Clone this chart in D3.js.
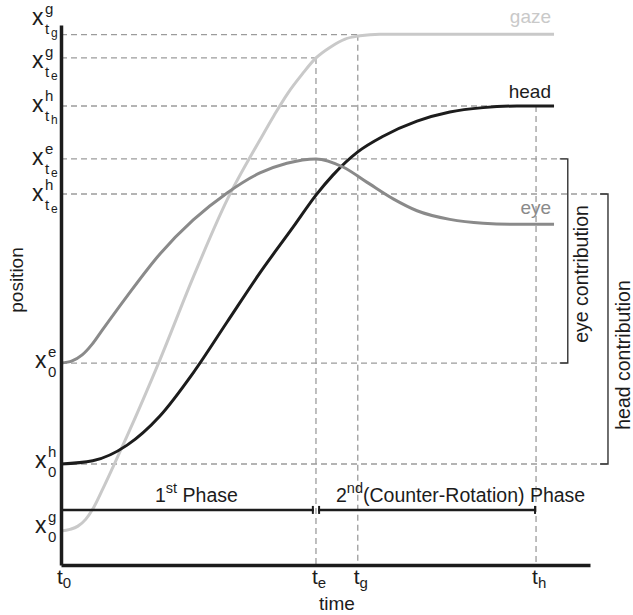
<!DOCTYPE html>
<html>
<head>
<meta charset="utf-8">
<script src="https://cdn.jsdelivr.net/npm/d3@7"></script>
<style>
  html, body { margin: 0; padding: 0; background: #fff; }
  svg { display: block; }
  text { font-family: "Liberation Sans", Arial, Helvetica, sans-serif; }
</style>
</head>
<body>
<svg id="chart" width="633" height="615"></svg>
<script>
// ---------------- DATA ----------------
// time (0..1000 units) and position (0..100 units) samples
const gazeT = [0, 17, 32, 47, 62, 79, 98, 125, 187, 250, 314, 376, 403, 429, 456, 482, 509, 537, 565, 603, 679, 932];
const gazeV = [6.3, 6.6, 7.2, 8.5, 10.7, 14.1, 18.1, 23.9, 38.0, 53.3, 67.6, 78.7, 83.3, 87.4, 90.9, 93.9, 95.9, 97.4, 98.0, 98.3, 98.3, 98.3];

const headT = [0, 60, 125, 187, 250, 314, 376, 439, 482, 514, 561, 609, 673, 735, 798, 862, 932];
const headV = [18.7, 19.3, 22.2, 27.6, 35.6, 45.0, 54.1, 62.6, 68.5, 72.2, 76.5, 79.4, 82.2, 83.9, 84.7, 85.0, 85.0];

const eyeT = [0, 21, 40, 59, 78, 125, 187, 250, 314, 376, 427, 482, 533, 578, 628, 673, 735, 798, 868, 932];
const eyeV = [37.4, 37.8, 38.9, 40.9, 43.5, 49.8, 57.6, 63.9, 68.9, 72.6, 74.4, 75.2, 73.7, 70.9, 67.8, 65.6, 64.0, 63.3, 63.1, 63.1];

const seriesNames = ["gaze", "head", "eye"];

// time markers t0, te, tg, th
const tickTimes = [0, 482, 561, 898];
const tickSubs = ["0", "e", "g", "h"];

// position levels
const levelValues = [98.2, 93.9, 85.0, 75.2, 68.7, 37.4, 18.7, 6.3];
const levelSup    = ["g", "g", "h", "e", "h", "e", "h", "g"];
const levelSub    = ["t", "t", "t", "t", "t", "0", "0", "0"];
const levelSubSub = ["g", "e", "h", "e", "e", "", "", ""];

const phaseY = 10.2;
const phaseLabels = [["1", "st", " Phase"], ["2", "nd", "(Counter-Rotation) Phase"]];
const contributionLabels = ["eye contribution", "head contribution"];
const xTitle = "time", yTitle = "position";

// ---------------- LAYOUT ----------------
const svg = d3.select("#chart");
const x = d3.scaleLinear().domain([0, 1000]).range([61, 590]);
const y = d3.scaleLinear().domain([0, 100]).range([565, 25]);

const colors = { gaze: "#c9c9c9", head: "#1c1c1c", eye: "#8a8a8a" };
const dashColor = "#9c9c9c";
const ink = "#1c1c1c";
const bracketEyeT = 958, bracketHeadT = 1034;

// dashed guide lines: [level index, end time]
const hGuides = [[0, tickTimes[2]], [1, tickTimes[1]], [2, tickTimes[3]], [3, bracketEyeT], [4, bracketHeadT], [5, bracketEyeT], [6, bracketHeadT]];
// vertical guides: [time index, level index of top]
const vGuides = [[1, 1], [2, 0], [3, 2]];

const gGuides = svg.append("g")
  .attr("stroke", dashColor).attr("stroke-width", 1.3).attr("stroke-dasharray", "6,4").attr("fill", "none");
hGuides.forEach(([li, t]) => {
  gGuides.append("line")
    .attr("x1", x(0)).attr("x2", x(t))
    .attr("y1", y(levelValues[li])).attr("y2", y(levelValues[li]));
});
vGuides.forEach(([ti, li]) => {
  gGuides.append("line")
    .attr("x1", x(tickTimes[ti])).attr("x2", x(tickTimes[ti]))
    .attr("y1", y(levelValues[li])).attr("y2", y(0));
});

// brackets
function bracket(t, v1, v2) {
  const p = d3.path();
  p.moveTo(x(t) - 8, y(v1)); p.lineTo(x(t), y(v1)); p.lineTo(x(t), y(v2)); p.lineTo(x(t) - 8, y(v2));
  svg.append("path").attr("d", p.toString()).attr("fill", "none").attr("stroke", "#333").attr("stroke-width", 1.4);
}
bracket(bracketEyeT, levelValues[3], levelValues[5]);
bracket(bracketHeadT, levelValues[4], levelValues[6]);

// curves
const line = d3.line().x(d => x(d[0])).y(d => y(d[1])).curve(d3.curveMonotoneX);
const seriesData = {
  gaze: d3.zip(gazeT, gazeV),
  head: d3.zip(headT, headV),
  eye: d3.zip(eyeT, eyeV)
};
seriesNames.forEach(n => {
  svg.append("path").datum(seriesData[n]).attr("d", line)
    .attr("fill", "none").attr("stroke", colors[n]).attr("stroke-width", 3).attr("stroke-linecap", "butt");
});

// series labels
const labelDy = { gaze: -11, head: -8, eye: -10 };
seriesNames.forEach(n => {
  const d = seriesData[n][seriesData[n].length - 1];
  svg.append("text").attr("x", x(d[0]) - 3).attr("y", y(d[1]) + labelDy[n])
    .attr("text-anchor", "end").attr("font-size", 19).attr("fill", colors[n]).text(n);
});

// phase lines
function phaseSeg(t1, t2) {
  const yy = y(phaseY);
  const g = svg.append("g").attr("stroke", ink).attr("stroke-width", 2.5);
  g.append("line").attr("x1", x(t1)).attr("x2", x(t2)).attr("y1", yy).attr("y2", yy);
  g.append("line").attr("x1", x(t1) + 1).attr("x2", x(t1) + 1).attr("y1", yy - 4).attr("y2", yy + 4).attr("stroke-width", 2);
  g.append("line").attr("x1", x(t2) - 1).attr("x2", x(t2) - 1).attr("y1", yy - 4).attr("y2", yy + 4).attr("stroke-width", 2);
}
phaseSeg(tickTimes[0], tickTimes[1] - 4);
phaseSeg(tickTimes[1] + 4, tickTimes[3]);

const phaseX = [155, 336];
phaseLabels.forEach((pl, i) => {
  const t = svg.append("text").attr("x", phaseX[i]).attr("y", y(phaseY) - 8).attr("font-size", 19.5).attr("fill", ink)
    .style("white-space", "pre");
  t.append("tspan").text(pl[0]);
  t.append("tspan").attr("font-size", 14.5).attr("dy", -9).text(pl[1]);
  t.append("tspan").attr("dy", 9).text(pl[2]);
});

// axes
const axL = svg.append("g").attr("transform", `translate(${x(0)},0)`)
  .call(d3.axisLeft(y).tickValues([]).tickSizeOuter(0));
const axB = svg.append("g").attr("transform", `translate(0,${y(0)})`)
  .call(d3.axisBottom(x).tickValues([]).tickSizeOuter(0));
[axL, axB].forEach(a => a.select(".domain").attr("stroke", ink).attr("stroke-width", 3.5));

// time tick labels
tickTimes.forEach((t, i) => {
  const tx = svg.append("text").attr("x", x(t) - 4).attr("y", y(0) + 19).attr("font-size", 21).attr("fill", ink);
  tx.append("tspan").text("t");
  tx.append("tspan").attr("font-size", 15).attr("dy", 4).text(tickSubs[i]);
});

// position level labels
const labelBaseDy = [-10, 10, 6, 6, 7, 5, 4, 2];
levelValues.forEach((v, i) => {
  const x0 = levelSubSub[i] ? 32 : 35;
  const yb = y(v) + labelBaseDy[i];
  const g = svg.append("g").attr("transform", `translate(${x0},${yb})`).attr("fill", ink);
  g.append("text").attr("font-size", 23).text("x");
  g.append("text").attr("x", 13).attr("y", -11).attr("font-size", 15).text(levelSup[i]);
  g.append("text").attr("x", 13).attr("y", 9).attr("font-size", 15).text(levelSub[i]);
  if (levelSubSub[i]) g.append("text").attr("x", 19).attr("y", 12).attr("font-size", 12).text(levelSubSub[i]);
});

// axis titles
svg.append("text").attr("x", 337).attr("y", 610).attr("text-anchor", "middle").attr("font-size", 19).attr("fill", ink).text(xTitle);
svg.append("text").attr("transform", "translate(23,280) rotate(-90)").attr("text-anchor", "middle")
  .attr("font-size", 19).attr("fill", ink).text(yTitle);

// contribution labels
const contribPos = [[588, (y(levelValues[3]) + y(levelValues[5])) / 2 + 13], [630, 355]];
contributionLabels.forEach((s, i) => {
  svg.append("text").attr("transform", `translate(${contribPos[i][0]},${contribPos[i][1]}) rotate(-90)`)
    .attr("text-anchor", "middle").attr("font-size", 19.5).attr("fill", ink).text(s);
});
</script>
</body>
</html>
